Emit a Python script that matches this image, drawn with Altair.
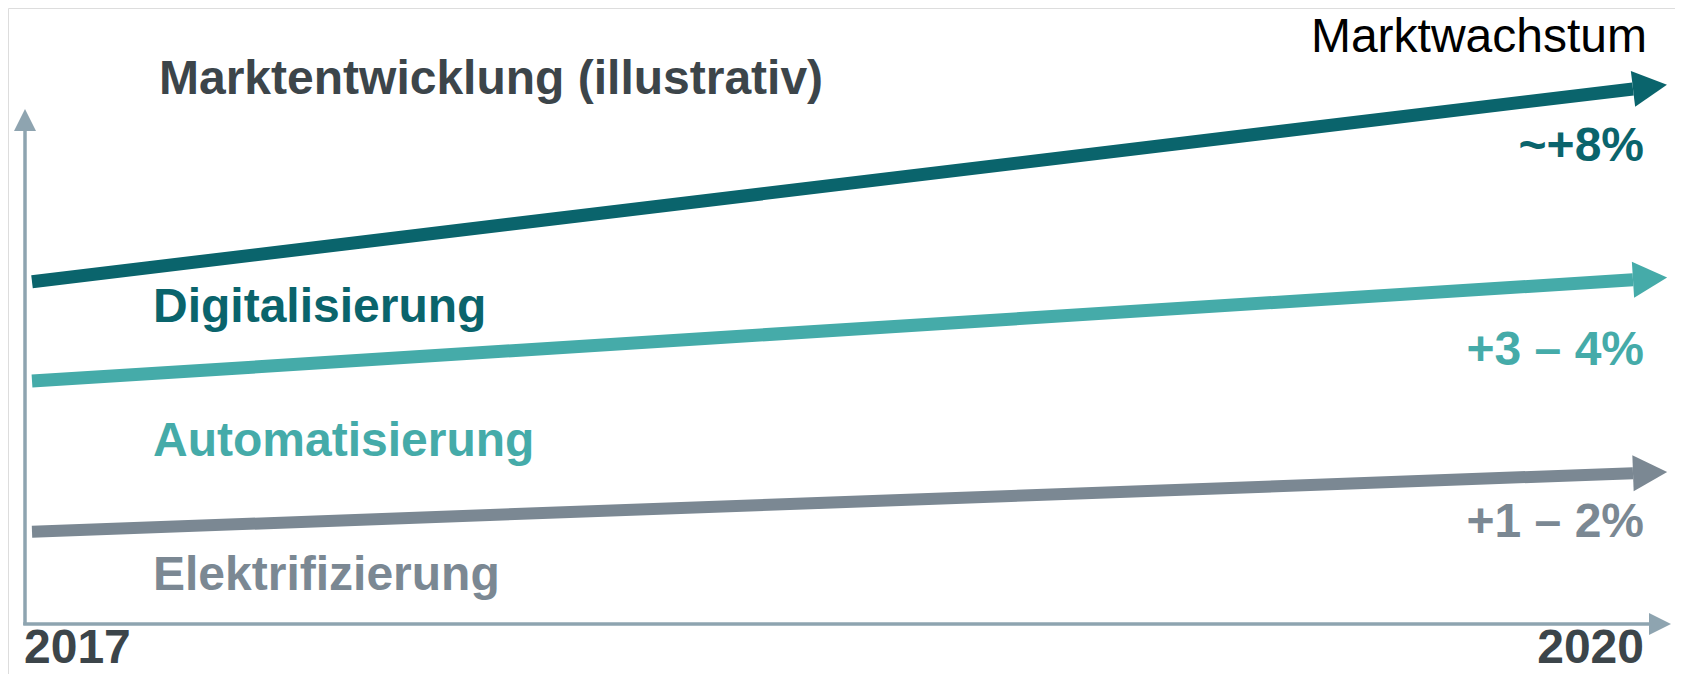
import math
import altair as alt
import pandas as pd

# ---- data ----
series = ["Digitalisierung", "Automatisierung", "Elektrifizierung"]
growth = ["~+8%", "+3 – 4%", "+1 – 2%"]
start_year = 2017
end_year = 2020
value_2017 = [58.4, 43.3, 20.4]
value_2020 = [87.7, 58.7, 29.3]
years = [2017, 2020]
title_text = "Marktentwicklung (illustrativ)"
corner_text = "Marktwachstum"

# ---- styling ----
FONT = "Liberation Sans"
colors = ["#0a646c", "#45aba9", "#7b8893"]
axis_color = "#8ea4b0"
title_color = "#3c454a"
W, H = 1667, 666
X_RANGE = [24, 1625]
Y_RANGE = [658, 0]
xs = alt.Scale(domain=[start_year, end_year], range=X_RANGE)
ys = alt.Scale(domain=[0, 100], range=Y_RANGE)

cat_dx = 121
cat_dy = [40, 75, 58]
gr_dx = 11
gr_dy = [72, 85, 64]
line_w = [13, 13, 12]
ARROW = "M 0 -1 L 1.9 0 L 0 1 Z"

layers = []
for i, name in enumerate(series):
    df = pd.DataFrame({"Jahr": [start_year, end_year],
                       "Wert": [value_2017[i], value_2020[i]],
                       "Segment": [name, name]})
    line = alt.Chart(df).mark_line(strokeWidth=line_w[i], strokeCap="butt", color=colors[i]).encode(
        x=alt.X("Jahr:Q", scale=xs, axis=None),
        y=alt.Y("Wert:Q", scale=ys, axis=None),
    )
    # arrow head angle from pixel slope
    px_dx = X_RANGE[1] - X_RANGE[0]
    px_dy = (value_2020[i] - value_2017[i]) * (Y_RANGE[0] - Y_RANGE[1]) / 100.0
    ang = (360 - math.degrees(math.atan2(px_dy, px_dx))) % 360
    end_df = df[df["Jahr"] == end_year]
    head = alt.Chart(end_df).mark_point(shape=ARROW, size=1296, filled=True, opacity=1,
                                        color=colors[i], angle=ang, strokeWidth=0).encode(
        x=alt.X("Jahr:Q", scale=xs, axis=None),
        y=alt.Y("Wert:Q", scale=ys, axis=None),
    )
    start_df = df[df["Jahr"] == start_year]
    cat = alt.Chart(start_df).mark_text(font=FONT, fontSize=48, fontWeight="bold", color=colors[i],
                                        align="left", baseline="alphabetic",
                                        dx=cat_dx, dy=cat_dy[i]).encode(
        x=alt.X("Jahr:Q", scale=xs, axis=None),
        y=alt.Y("Wert:Q", scale=ys, axis=None),
        text="Segment:N",
    )
    gdf = end_df.assign(Wachstum=growth[i])
    gr = alt.Chart(gdf).mark_text(font=FONT, fontSize=48, fontWeight="bold", color=colors[i],
                                  align="right", baseline="alphabetic",
                                  dx=gr_dx, dy=gr_dy[i]).encode(
        x=alt.X("Jahr:Q", scale=xs, axis=None),
        y=alt.Y("Wert:Q", scale=ys, axis=None),
        text="Wachstum:N",
    )
    layers += [line, head, cat, gr]

dummy = pd.DataFrame({"a": [0]})
# axes drawn as arrows
y_axis = alt.Chart(dummy).mark_rule(color=axis_color, strokeWidth=3.5).encode(
    x=alt.value(17), y=alt.value(122), y2=alt.value(617))
x_axis = alt.Chart(dummy).mark_rule(color=axis_color, strokeWidth=3.5).encode(
    x=alt.value(15.25), x2=alt.value(1642), y=alt.value(616))
y_head = alt.Chart(dummy).mark_point(shape="M 0 -1 L 2 0 L 0 1 Z", size=484, filled=True, opacity=1,
                                     color=axis_color, angle=270, strokeWidth=0).encode(
    x=alt.value(17), y=alt.value(123))
x_head = alt.Chart(dummy).mark_point(shape="M 0 -1 L 2 0 L 0 1 Z", size=484, filled=True, opacity=1,
                                     color=axis_color, strokeWidth=0).encode(
    x=alt.value(1641), y=alt.value(616))

year_df = pd.DataFrame({"Jahr": years, "Label": [str(y) for y in years]})
y2017 = alt.Chart(year_df[year_df["Jahr"] == start_year]).mark_text(
    font=FONT, fontSize=48, fontWeight="bold", color=title_color, align="left",
    baseline="alphabetic", dx=-8).encode(
    x=alt.X("Jahr:Q", scale=xs, axis=None), y=alt.value(655), text="Label:N")
y2020 = alt.Chart(year_df[year_df["Jahr"] == end_year]).mark_text(
    font=FONT, fontSize=48, fontWeight="bold", color=title_color, align="right",
    baseline="alphabetic", dx=11).encode(
    x=alt.X("Jahr:Q", scale=xs, axis=None), y=alt.value(655), text="Label:N")

title = alt.Chart(pd.DataFrame({"t": [title_text]})).mark_text(
    font=FONT, fontSize=48, fontWeight="bold", color=title_color, align="left",
    baseline="alphabetic").encode(x=alt.value(151), y=alt.value(86), text="t:N")
corner = alt.Chart(pd.DataFrame({"t": [corner_text]})).mark_text(
    font=FONT, fontSize=48, color="#000000", align="right",
    baseline="alphabetic").encode(x=alt.value(1639), y=alt.value(44), text="t:N")

chart = alt.layer(y_axis, x_axis, y_head, x_head, *layers, y2017, y2020, title, corner).properties(
    width=W, height=H,
    autosize=alt.AutoSizeParams(type="none"),
    padding=0,
).configure_view(stroke=None).configure(background="white")

chart.save("out.html", embed_options={"renderer": "svg", "actions": False})
